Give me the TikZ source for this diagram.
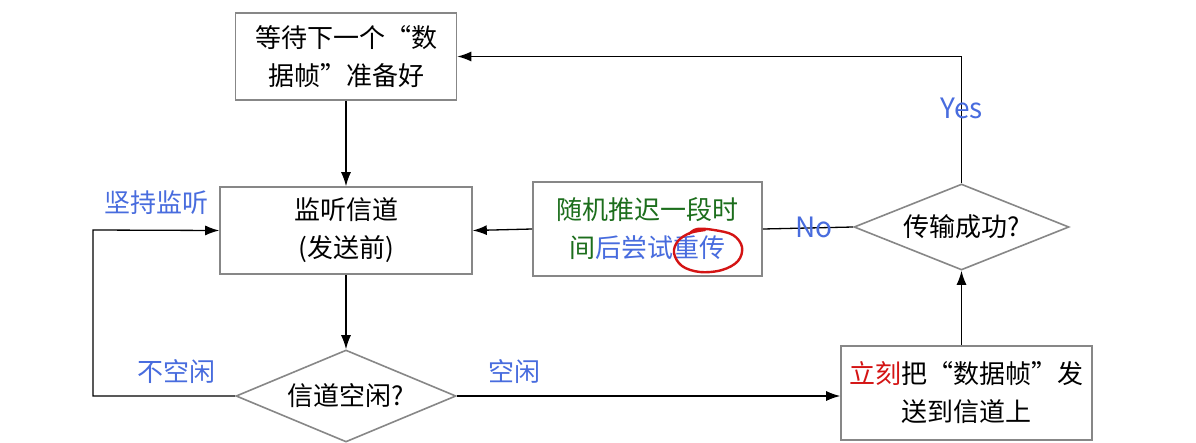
\documentclass[tikz,border=0pt]{standalone}
\usepackage{fontspec}
\setmainfont{Noto Sans CJK SC}
\usetikzlibrary{arrows.meta,shapes.geometric}
\definecolor{lblblue}{RGB}{72,108,222}
\definecolor{txtgreen}{RGB}{28,110,28}
\definecolor{txtred}{RGB}{212,20,20}
\definecolor{boxgray}{RGB}{135,135,135}
\begin{document}
\begin{tikzpicture}[x=1pt,y=-1pt,
  every node/.style={font=\fontsize{26}{38}\selectfont, inner sep=0pt},
  box/.style={draw=boxgray, line width=1.6pt, rectangle, align=center},
  dia/.style={draw=boxgray, line width=1.6pt, diamond, shape aspect=2.5, align=center},
  conn/.style={draw=black, line width=1.3pt},
  arr/.style={conn, -{Latex[length=14pt,width=10pt]}},
  lbl/.style={text=lblblue},
  latlbl/.style={text=lblblue, font=\fontsize{28}{34}\selectfont}]
\useasboundingbox[fill=white] (0,0) rectangle (1196,442);

\node[box, minimum width=221pt, minimum height=87pt] (b1) at (346,56.5) {等待下一个“数\\据帧”准备好};
\node[box, minimum width=252pt, minimum height=87pt] (b2) at (346,230.5) {监听信道\\(发送前)};
\node[box, minimum width=229pt, minimum height=94pt] (b3) at (647.5,229) {\textcolor{txtgreen}{随机推迟一段时}\\\textcolor{txtgreen}{间}\textcolor{lblblue}{后尝试重传}};
\node[dia, minimum width=215pt, minimum height=86pt] (d2) at (961.5,227) {传输成功?};
\node[box, minimum width=251pt, minimum height=94pt] (b4) at (966.5,393) {\textcolor{txtred}{立刻}把“数据帧”发\\送到信道上};
\node[dia, minimum width=220pt, minimum height=92pt] (d1) at (346,396) {信道空闲?};

\draw[arr] (b1.south) -- (b2.north);
\draw[arr] (b2.south) -- (d1.north);
\draw[arr] (d1.west) -| (93,230) -- (b2.west);
\draw[arr] (d1.east) -- (d1.east -| b4.west);
\draw[arr] (b4.north -| d2.south) -- (d2.south);
\draw[arr] (d2.north) |- node[latlbl, pos=0.295] {Yes} (b1.east);
\draw[conn] (d2.west) -- node[latlbl, pos=0.43] {No} (b3.east);
\draw[arr] (b3.west) -- (b2.east);

\node[lbl] (l1) at (156,203) {坚持监听};
\node[lbl] (l2) at (176,372) {不空闲};
\node[lbl] (l3) at (514,372) {空闲};

\draw[txtred, line width=2.4pt, line cap=round, line join=round]
  plot[smooth, tension=0.6] coordinates {(689,234) (697,229) (714,230) (733,235) (742,247) (738,261) (722,270) (700,272) (682,266) (674,253) (678,241) (690,233) (705,230)};
\end{tikzpicture}
\end{document}
